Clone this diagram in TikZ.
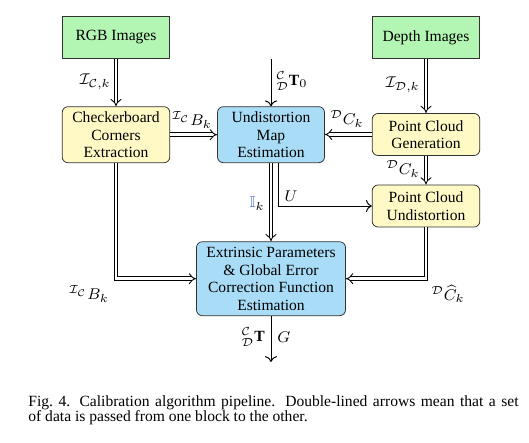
\documentclass[tikz,border=0pt]{standalone}
\usepackage{amsmath,amssymb}
\usepackage{fontspec}
\setmainfont{Liberation Serif}
\usepackage{xcolor}
\usetikzlibrary{positioning,arrows.meta}

\definecolor{inputgreen}{HTML}{B3F6B3}
\definecolor{procyellow}{HTML}{FFF9C6}
\definecolor{estblue}{HTML}{A9DDF7}
\definecolor{setblue}{HTML}{3060C8}

\begin{document}
\begin{tikzpicture}[
    x=0.514pt, y=-0.514pt,
    font=\fontsize{8}{9}\selectfont,
    inbox/.style={rectangle, draw=black!80, fill=inputgreen, minimum width=55pt, minimum height=21.4pt, align=center},
    procbox/.style={rectangle, draw=black!80, rounded corners=3pt, fill=procyellow, minimum width=55.3pt, minimum height=21.6pt, inner sep=1pt, align=center},
    estbox/.style={rectangle, draw=black!80, rounded corners=3pt, fill=estblue, minimum width=55pt, minimum height=28.8pt, inner sep=1pt, align=center},
    dbl/.style={double, double distance=1.5pt, line width=0.45pt, -{Implies}},
    arrow/.style={-{To[length=3pt]}, line width=0.5pt},
    label/.style={inner sep=0.5pt},
]
\useasboundingbox (0,0) rectangle (529,443);

% Inputs
\node[inbox] (rgb) at (116,37.5) {RGB Images};
\node[inbox] (depth) at (426,37.5) {Depth Images};

% First row
\node[procbox, minimum height=28.8pt] (corners) at (116,134.7) {Checkerboard\\Corners\\Extraction};
\node[estbox] (undist) at (271,134.7) {Undistortion\\Map\\Estimation};
\node[procbox] (pcgen) at (426,134.5) {Point Cloud\\Generation};

% Second row
\node[procbox] (pcund) at (426,206) {Point Cloud\\Undistortion};
\node[estbox, minimum width=76.6pt, minimum height=38pt] (extr) at (271,278.7) {Extrinsic Parameters\\\& Global Error\\Correction Function\\Estimation};

% Free ends
\coordinate (tzero) at (271,59);
\coordinate (result) at (271,362);

% Arrows
\draw[dbl] (rgb) -- (corners);
\draw[dbl] (depth) -- (pcgen);
\draw[arrow] (tzero) -- (undist.north);
\draw[dbl] (corners.east) -- (undist.west);
\draw[dbl] (pcgen.west) -- (pcgen.west -| undist.east);
\draw[dbl] (pcgen) -- (pcund);
\draw[dbl] (undist) -- (extr);
\draw[arrow] ([xshift=4.1pt]undist.south) |- (pcund.west);
\draw[dbl] (corners.south) |- (extr.west);
\draw[dbl] (pcund.south) |- (extr.east);
\draw[arrow] (extr.south) -- (result);

% Labels
\node[label, anchor=east] (lirgb) at (112,82) {$\mathcal{I}_{\mathcal{C},k}$};
\node[label, anchor=east] (lidepth) at (421,85) {$\mathcal{I}_{\mathcal{D},k}$};
\node[label, anchor=west] (ltzero) at (275,81) {${}^{\mathcal{C}}_{\mathcal{D}}\mathbf{T}_0$};
\node[label] (lbtop) at (192,120) {${}^{\mathcal{I}_\mathcal{C}}B_k$};
\node[label] (lcgen) at (347,119) {${}^{\mathcal{D}}C_k$};
\node[label, anchor=east] (lcund) at (421,169) {${}^{\mathcal{D}}C_k$};
\node[label, anchor=east] (lset) at (266,204) {$\textcolor{setblue}{\mathbb{I}}_k$};
\node[label] (lu) at (291,196) {$U$};
\node[label] (lbbot) at (89,294) {${}^{\mathcal{I}_\mathcal{C}}B_k$};
\node[label] (lchat) at (448,294) {${}^{\mathcal{D}}\widehat{C}_k$};
\node[label, anchor=east] (lt) at (266,337) {${}^{\mathcal{C}}_{\mathcal{D}}\mathbf{T}$};
\node[label, anchor=west] (lg) at (276,337) {$G$};

% Caption
\node[anchor=north west, inner sep=0pt, text width=252pt, align=justify, font=\fontsize{8}{8}\selectfont] (caption) at (28,395)
  {Fig.~4.\hspace{0.6em}Calibration algorithm pipeline. Double-lined arrows mean that a set\linebreak of data is passed from one block to the other.};

\end{tikzpicture}
\end{document}
